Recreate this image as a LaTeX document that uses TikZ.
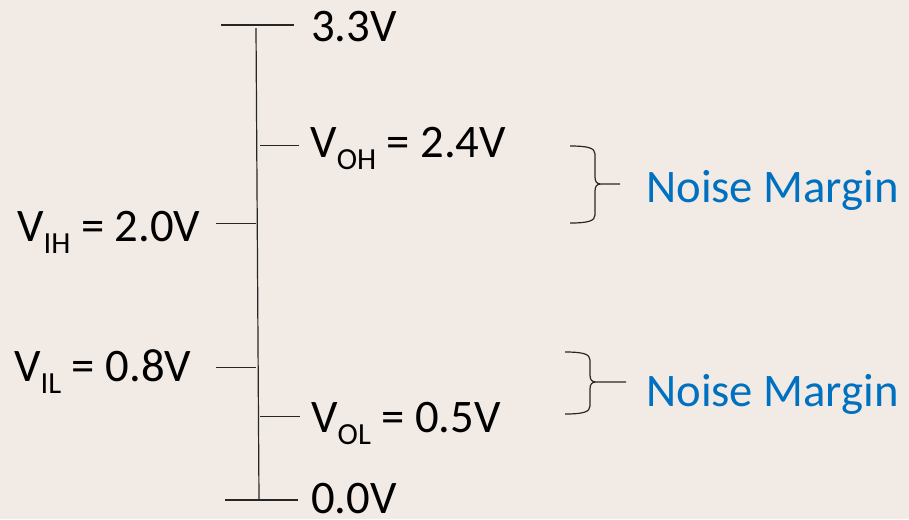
\documentclass[tikz,border=0pt]{standalone}
\usepackage{fontspec}
\setmainfont{Carlito}
\usetikzlibrary{positioning}
\definecolor{marginblue}{HTML}{0070C0}
\definecolor{paper}{RGB}{242,235,229}
\newcommand{\volt}[2]{V\raisebox{-9pt}{\fontsize{23}{23}\selectfont #1}#2}

\begin{document}
\begin{tikzpicture}[
x=0.75pt, y=-0.75pt,
level/.style={font=\fontsize{35}{42}\selectfont, inner sep=0pt, anchor=base west},
margin/.style={level, text=marginblue},
tick/.style={line width=0.9pt, black!85},
bracket/.style={line width=0.9pt, black!85, line join=round}
]
\fill[paper] (0,0) rectangle (909,519);
\useasboundingbox (0,0) rectangle (909,519);
% voltage axis
\coordinate (top) at (256,28);
\coordinate (bottom) at (259,500);
\draw[tick] (top) -- (bottom);
\foreach \xa/\xb/\y in {221/294/25, 260/299/145.7, 216/256/223.3, 216/256/367.7, 260/300/416.7, 225/298/500}
  \draw[tick] (\xa,\y) -- (\xb,\y);
% levels
\node[level] (vdd) at (311,41.7) {3.3V};
\node[level] (voh) at (310,157) {\volt{OH}{ = 2.4V}};
\node[level] (vih) at (17,241) {\volt{IH}{ = 2.0V}};
\node[level] (vil) at (14,381.7) {\volt{IL}{ = 0.8V}};
\node[level] (vol) at (311,432) {\volt{OL}{ = 0.5V}};
\node[level] (gnd) at (311,513) {0.0V};
% noise margins
\foreach \xl/\yt/\ym/\yb/\xt in {570/146/184/223/620, 565/352/382/414/626}
  \draw[bracket] (\xl,\yt) .. controls +(18,0) and +(0,-6) .. (\xl+25,\yt+8)
    -- (\xl+25,\ym-7) .. controls +(0,5) and +(-4,0) .. (\xl+31,\ym) -- (\xt,\ym)
    (\xl+31,\ym) .. controls +(-4,0) and +(0,-5) .. (\xl+25,\ym+7)
    -- (\xl+25,\yb-8) .. controls +(0,6) and +(18,0) .. (\xl,\yb);
\node[margin] (nmh) at (646,202.7) {Noise Margin};
\node[margin] (nml) at (646,406) {Noise Margin};
\end{tikzpicture}
\end{document}
